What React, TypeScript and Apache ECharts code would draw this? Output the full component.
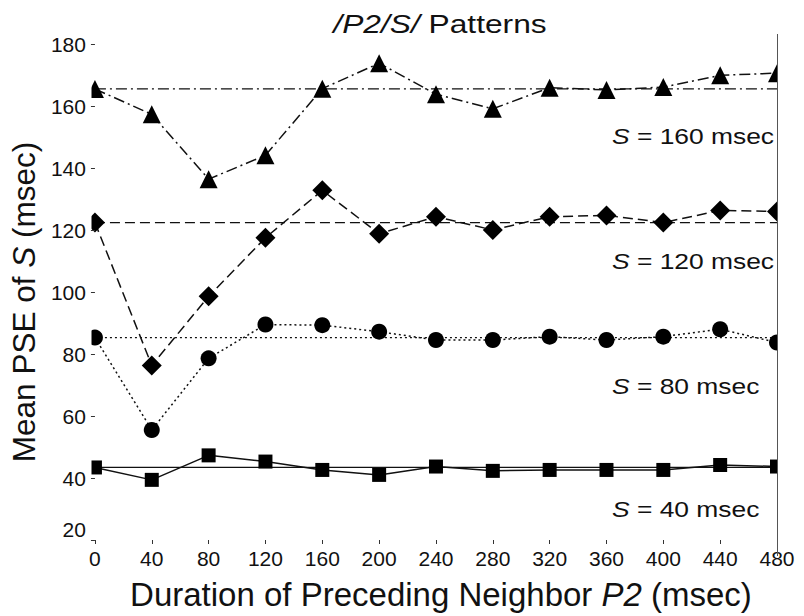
import React, { useEffect, useRef } from "react";
import * as echarts from "echarts";

const durations = [0, 40, 80, 120, 160, 200, 240, 280, 320, 360, 400, 440, 480];
const pse160 = [165.5, 157.3, 136.4, 144.1, 165.6, 173.8, 163.8, 159.1, 165.9, 165.2, 166.1, 169.9, 170.6];
const pse120 = [122.4, 76.3, 98.6, 117.5, 132.8, 118.8, 124.3, 120.0, 124.3, 124.7, 122.4, 126.3, 126.0];
const pse80 = [85.3, 55.5, 78.6, 89.5, 89.3, 87.2, 84.5, 84.5, 85.6, 84.5, 85.6, 88.0, 83.7];
const pse40 = [43.4, 39.4, 47.3, 45.3, 42.6, 41.0, 43.7, 42.3, 42.6, 42.6, 42.6, 44.2, 43.7];
const baselines = [165.5, 122.4, 85.3, 43.4];
const conditionLabels = ["160", "120", "80", "40"];
const yTicks = [20, 40, 60, 80, 100, 120, 140, 160, 180];

const FONT = "Liberation Sans, Arial, Helvetica, sans-serif";

export default function App() {
  const ref = useRef<HTMLDivElement>(null);
  useEffect(() => {
    if (!ref.current) return;
    const chart = echarts.init(ref.current, null, { renderer: "svg" });
    const seriesSets = [
      { vals: pse160, symbol: "triangle", size: 18, dash: [11, 4, 2, 4] },
      { vals: pse120, symbol: "diamond", size: 20, dash: [10, 5] },
      { vals: pse80, symbol: "circle", size: 16, dash: [2, 3] },
      { vals: pse40, symbol: "rect", size: 14, dash: "solid" },
    ];
    const series: any[] = [];
    seriesSets.forEach((s, i) => {
      series.push({
        type: "line",
        data: [
          [durations[0], baselines[i]],
          [durations[durations.length - 1], baselines[i]],
        ],
        symbol: "none",
        lineStyle: { color: "#111", width: 1.2, type: s.dash },
        z: 2,
      });
      series.push({
        type: "line",
        data: durations.map((d, k) => [d, s.vals[k]]),
        symbol: s.symbol,
        symbolSize: s.size,
        itemStyle: { color: "#000" },
        lineStyle: { color: "#111", width: 1.5, type: s.dash },
        z: 3,
      });
    });
    const labelY = [136, 261, 386, 509];
    const option: any = {
      animation: false,
      backgroundColor: "#fff",
      grid: { left: 92, right: 27, top: 44, bottom: 74 },
      xAxis: {
        type: "value",
        min: 0,
        max: 480,
        interval: 40,
        z: 10,
        axisLine: { show: false },
        axisTick: { show: true, length: 4, lineStyle: { color: "#333" } },
        splitLine: { show: false },
        axisLabel: { fontFamily: FONT, fontSize: 21, color: "#111", margin: 8 },
        name: "Duration of Preceding Neighbor {i|P2} (msec)",
        nameLocation: "middle",
        nameGap: 38,
        nameTextStyle: {
          fontFamily: FONT,
          fontSize: 33,
          color: "#111",
          padding: [0, 0, 0, 10],
          rich: { i: { fontFamily: FONT, fontSize: 33, fontStyle: "italic", color: "#111" } },
        },
      },
      yAxis: {
        type: "value",
        min: yTicks[0],
        max: yTicks[yTicks.length - 1],
        interval: 20,
        z: 10,
        axisLine: { show: false },
        axisTick: { show: true, length: 4, lineStyle: { color: "#333" } },
        splitLine: { show: false },
        axisLabel: {
          fontFamily: FONT,
          fontSize: 21,
          color: "#111",
          margin: 9,
          formatter: (v: number) => (v === 20 ? "{low|20}" : String(v)),
          rich: { low: { fontFamily: FONT, fontSize: 21, color: "#111", padding: [0, 0, 22, 0] } },
        },
        name: "Mean PSE of {i|S} (msec)",
        nameLocation: "middle",
        nameGap: 50,
        nameRotate: 90,
        nameTextStyle: {
          fontFamily: FONT,
          fontSize: 31.5,
          color: "#111",
          padding: [0, 20, 0, 0],
          rich: { i: { fontFamily: FONT, fontSize: 31.5, fontStyle: "italic", color: "#111" } },
        },
      },
      graphic: [
        { type: "rect", z: 5, shape: { x: 0, y: 0, width: 91.5, height: 616 }, style: { fill: "#fff" } },
        { type: "rect", z: 5, shape: { x: 777.5, y: 0, width: 30, height: 616 }, style: { fill: "#fff" } },
        { type: "line", z: 11, shape: { x1: 777.5, y1: 34, x2: 777.5, y2: 556 }, style: { stroke: "#555", lineWidth: 1 } },
        {
          type: "text",
          z: 11,
          x: 440,
          y: 24,
          scaleX: 1.22,
          style: {
            text: "{i|/P2/S/} Patterns",
            fontFamily: FONT,
            fontSize: 26,
            fill: "#111",
            align: "center",
            verticalAlign: "middle",
            rich: { i: { fontFamily: FONT, fontSize: 26, fontStyle: "italic", fill: "#111" } },
          },
        },
        ...conditionLabels.map((c, i) => ({
          type: "text",
          z: 11,
          x: 612,
          y: labelY[i],
          scaleX: 1.2,
          style: {
            text: `{i|S} = ${c} msec`,
            fontFamily: FONT,
            fontSize: 22,
            fill: "#111",
            verticalAlign: "middle",
            rich: { i: { fontFamily: FONT, fontSize: 22, fontStyle: "italic", fill: "#111" } },
          },
        })),
      ],
      series,
    };
    chart.setOption(option);
    return () => chart.dispose();
  }, []);
  return <div ref={ref} style={{ width: 804, height: 616, position: "absolute", left: 0, top: 0 }} />;
}
